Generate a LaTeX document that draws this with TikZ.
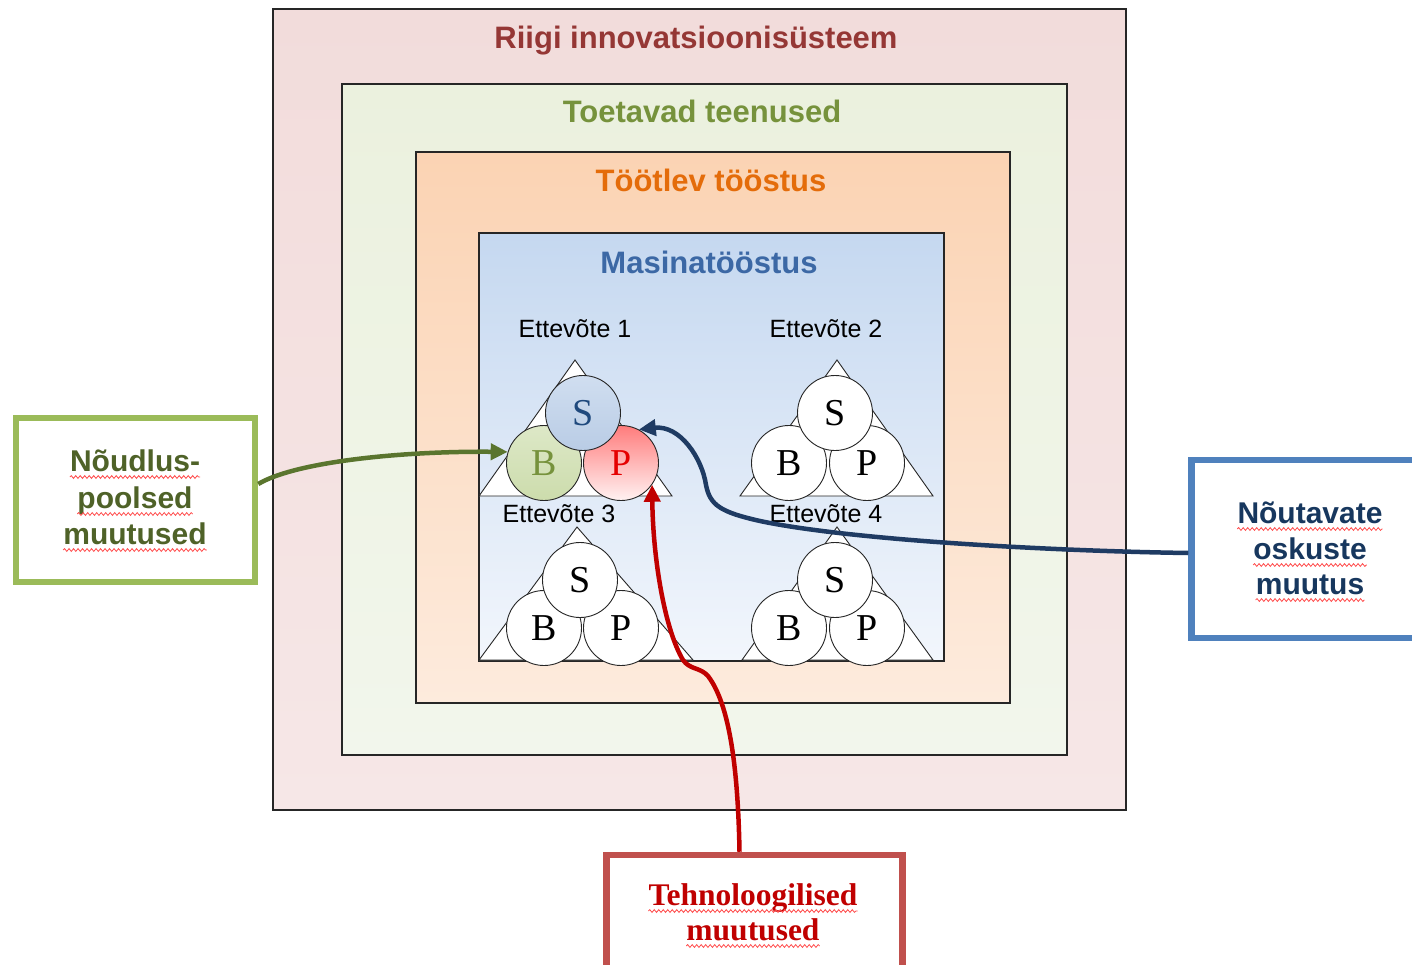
\documentclass[tikz,border=0pt]{standalone}
\usepackage{fontspec}
\setmainfont{Liberation Serif}
\setsansfont{Liberation Sans}
\usetikzlibrary{arrows.meta,decorations.pathmorphing}
\definecolor{pinkF}{HTML}{F2DCDB}
\definecolor{pinkB}{HTML}{F6E7E7}
\definecolor{greenF}{HTML}{EBF1DE}
\definecolor{greenB}{HTML}{F2F6EC}
\definecolor{orangeT}{HTML}{FBD3B3}
\definecolor{orangeB}{HTML}{FDEBDD}
\definecolor{blueT}{HTML}{C5D8F0}
\definecolor{blueB}{HTML}{F2F6FC}
\definecolor{tRed}{HTML}{953735}
\definecolor{tGreen}{HTML}{76923C}
\definecolor{tOrange}{HTML}{E46C0A}
\definecolor{tBlue}{HTML}{3C68A5}
\definecolor{sBlueT}{HTML}{D0DEF0}
\definecolor{sBlueB}{HTML}{B9CCE5}
\definecolor{sBlueTxt}{HTML}{1F497D}
\definecolor{bGreenT}{HTML}{DDE8C7}
\definecolor{bGreenM}{HTML}{F0F5E6}
\definecolor{bGreenB}{HTML}{CCDCAC}
\definecolor{bGreenTxt}{HTML}{76923C}
\definecolor{pRedT}{HTML}{FF7C7C}
\definecolor{pRedM}{HTML}{FFD6D6}
\definecolor{pRedB}{HTML}{FFF2F2}
\definecolor{lbBorder}{HTML}{9BBB59}
\definecolor{lbText}{HTML}{4F6228}
\definecolor{rbBorder}{HTML}{4F81BD}
\definecolor{rbText}{HTML}{17375E}
\definecolor{tbBorder}{HTML}{C0504D}
\definecolor{tbText}{HTML}{C00000}
\definecolor{gArrow}{HTML}{5A752E}
\definecolor{nArrow}{HTML}{1F3B63}
\definecolor{rArrow}{HTML}{C00000}
\begin{document}
\begin{tikzpicture}[x=1pt,y=-1pt,
  frame/.style={draw=black!85, line width=1.3pt, inner sep=0pt, rectangle},
  ttl/.style={anchor=base, inner sep=0pt, font=\sffamily\bfseries\fontsize{31}{36}\selectfont},
  firm/.style={anchor=base, inner sep=0pt, font=\sffamily\fontsize{25}{30}\selectfont},
  tri/.style={draw=black!85, line width=0.9pt, fill=white},
  circ/.style={circle, draw=black!85, line width=0.9pt, fill=white, minimum size=75pt, inner sep=0pt, font=\fontsize{38}{40}\selectfont},
  sidebox/.style={rectangle, line width=6.5pt, fill=white, inner sep=0pt},
  boxtxt/.style={anchor=base, inner sep=0pt, font=\sffamily\bfseries\fontsize{30}{36}\selectfont},
  serbox/.style={anchor=base, inner sep=0pt, font=\bfseries\fontsize{31.5}{36}\selectfont},
  wavy/.style={draw=red!70, line width=0.8pt, decorate, decoration={snake, amplitude=1.4pt, segment length=4.5pt}},
  conn/.style={line width=4.5pt, -{Triangle[length=17pt,width=16pt]}}
]
\useasboundingbox (0,0) rectangle (1412,965);
\clip (0,0) rectangle (1412,965);
\fill[white] (0,0) rectangle (1412,965);

% nested frames
\node[frame, top color=pinkF, bottom color=pinkB, minimum width=853pt, minimum height=801pt] (riik) at (699.5,409.5) {};
\node[frame, top color=greenF, bottom color=greenB, minimum width=725pt, minimum height=671pt] (teenus) at (704.5,419.5) {};
\node[frame, top color=orangeT, bottom color=orangeB, minimum width=594pt, minimum height=551pt] (tootlev) at (713,427.5) {};
\node[frame, top color=blueT, bottom color=blueB, minimum width=465pt, minimum height=428pt] (masin) at (711.5,447) {};

% titles
\node[ttl, text=tRed] (t1) at (696,49) {Riigi innovatsioonisüsteem};
\node[ttl, text=tGreen] (t2) at (702,123) {Toetavad teenused};
\node[ttl, text=tOrange] (t3) at (711,192) {Töötlev tööstus};
\node[ttl, text=tBlue] (t4) at (709,274) {Masinatööstus};

% firm labels
\node[firm] (e1) at (575,337) {Ettevõte 1};
\node[firm] (e2) at (826,337) {Ettevõte 2};
\node[firm] (e3) at (559,522) {Ettevõte 3};
\node[firm] (e4) at (826,522) {Ettevõte 4};

% triangles
\draw[tri] (479,496) -- (672,496) -- (575,360) -- cycle;
\draw[tri] (740,496) -- (933,496) -- (837,360) -- cycle;
\draw[tri] (479,660) -- (693,660) -- (577,527) -- cycle;
\draw[tri] (742,660) -- (933,660) -- (837,527) -- cycle;

% firm 1 circles
\node[circ, top color=bGreenT, middle color=bGreenM, bottom color=bGreenB, text=bGreenTxt] (b1) at (544,463) {B};
\node[circ, top color=pRedT, middle color=pRedM, bottom color=pRedB, text=red!90!black] (p1) at (621,463) {P};
\node[circ, top color=sBlueT, middle color=white, bottom color=sBlueB, text=sBlueTxt] (s1) at (583,413) {S};
% firm 2
\node[circ] (b2) at (789,463) {B};
\node[circ] (p2) at (867,463) {P};
\node[circ] (s2) at (835,413) {S};
% firm 3
\node[circ] (b3) at (544,628) {B};
\node[circ] (p3) at (621,628) {P};
\node[circ] (s3) at (580,580) {S};
% firm 4
\node[circ] (b4) at (789,628) {B};
\node[circ] (p4) at (867,628) {P};
\node[circ] (s4) at (835,580) {S};

% side boxes
\node[sidebox, draw=lbBorder, minimum width=239pt, minimum height=164pt] (lb) at (135.5,500) {};
\node[sidebox, draw=rbBorder, minimum width=240pt, minimum height=178pt] (rb) at (1311.5,549) {};
\node[sidebox, draw=tbBorder, minimum width=296pt, minimum height=120pt] (tb) at (754.5,915) {};

% side box texts
\node[boxtxt, text=lbText] (la) at (135,471) {Nõudlus-};
\node[boxtxt, text=lbText] (lbb) at (135,508) {poolsed};
\node[boxtxt, text=lbText] (lc) at (135,544) {muutused};
\node[boxtxt, text=rbText] (ra) at (1310,523) {Nõutavate};
\node[boxtxt, text=rbText] (rbb) at (1310,559) {oskuste};
\node[boxtxt, text=rbText] (rc) at (1310,594) {muutus};
\node[serbox, text=tbText] (ta) at (753,905) {Tehnoloogilised};
\node[serbox, text=tbText] (tbb) at (753,940) {muutused};

\foreach \n in {la,lbb,lc,ra,rbb,rc,ta,tbb}
  \draw[wavy] ([yshift=-6pt]\n.base west) -- ([yshift=-6pt]\n.base east);

% connectors
\draw[conn, draw=gArrow] ([yshift=16pt]lb.east) .. controls (295,462) and (400,451) .. (b1.163);
\draw[conn, draw=nArrow] ([yshift=-4pt]rb.west) .. controls (1050,551) and (850,540) .. (760,521) .. controls (720,512) and (710,505) .. (706,485) .. controls (702,458) and (680,425) .. (p1.62);
\draw[conn, draw=rArrow] ([xshift=-15pt]tb.north) .. controls (738,770) and (730,705) .. (708,676) .. controls (700,667) and (690,670) .. (683,660) .. controls (665,630) and (653,560) .. (p1.-35);
\end{tikzpicture}
\end{document}
